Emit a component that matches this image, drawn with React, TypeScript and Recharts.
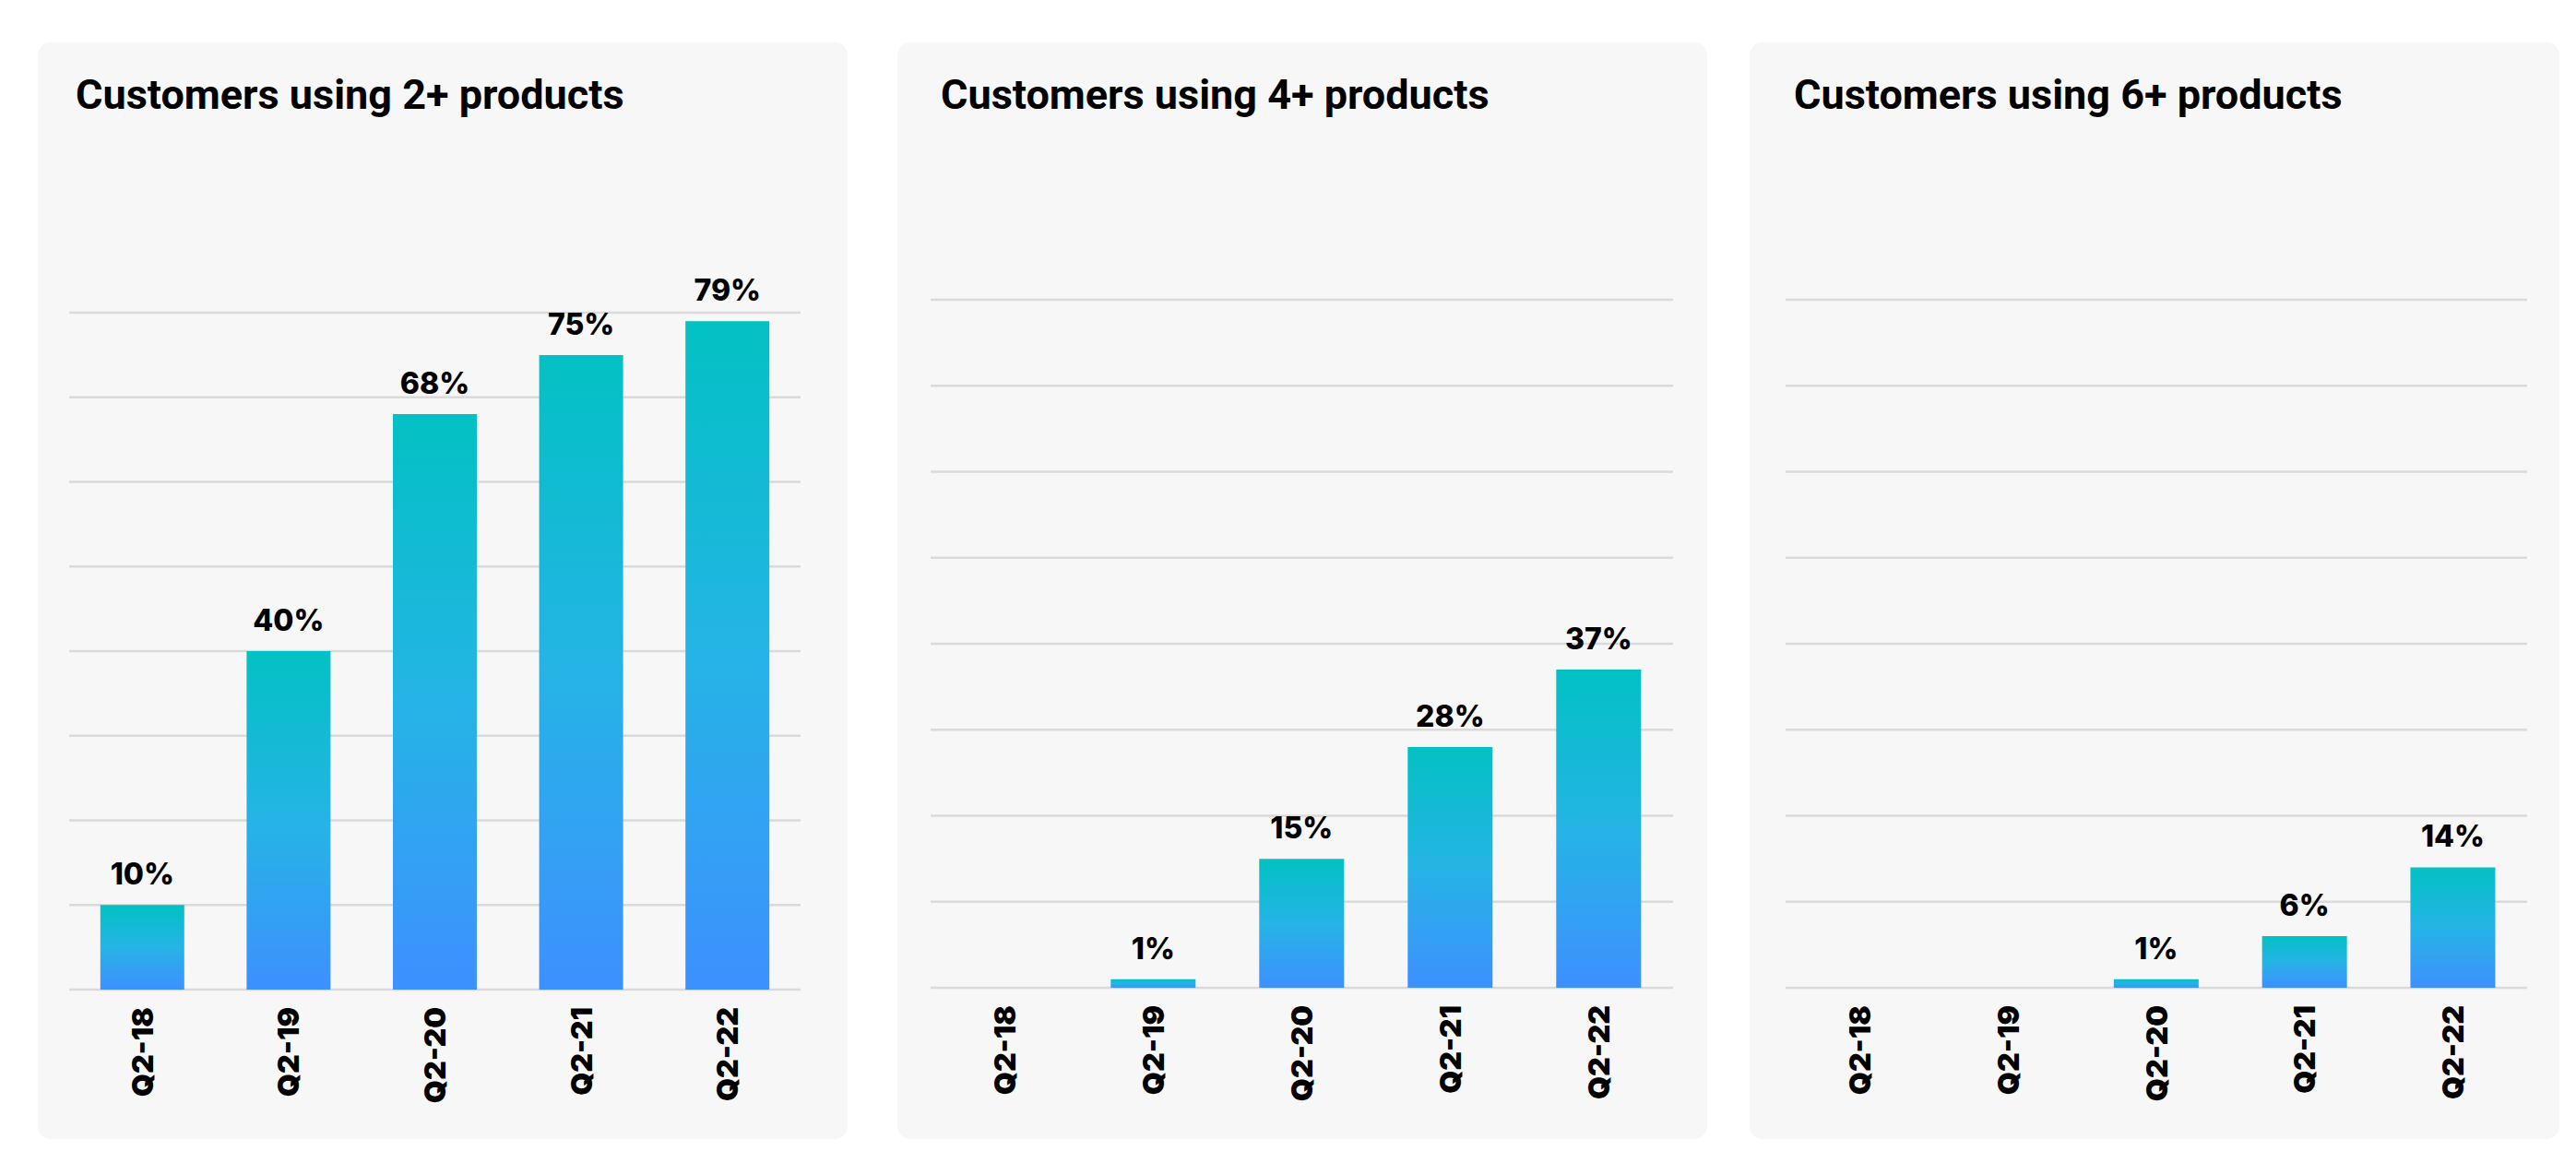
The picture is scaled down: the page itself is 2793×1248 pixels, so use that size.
import { Bar, BarChart, CartesianGrid, LabelList, XAxis, YAxis } from "recharts";

const quarters = ["Q2-18", "Q2-19", "Q2-20", "Q2-21", "Q2-22"];
const twoPlus = [10, 40, 68, 75, 79];
const fourPlus = [0, 1, 15, 28, 37];
const sixPlus = [0, 0, 1, 6, 14];
const yTicks = [0, 10, 20, 30, 40, 50, 60, 70, 80];

const CARD_W = 878;
const CARD_H = 1189;
const labelFont = "Inter, Roboto, sans-serif";

function QuarterTick({ x, y, payload }: any) {
  return (
    <text
      x={x}
      y={y}
      transform={`rotate(-90, ${x}, ${y})`}
      textAnchor="end"
      dy="0.36em"
      fill="#000"
      fontSize={32}
      fontWeight={900}
      fontFamily={labelFont}
    >
      {payload.value}
    </text>
  );
}

type PanelProps = {
  id: string;
  title: string;
  values: number[];
  left: number;
  titleLeft: number;
  margin: { top: number; right: number; bottom: number; left: number };
};

function Panel({ id, title, values, left, titleLeft, margin }: PanelProps) {
  const data = quarters.map((q, i) => ({ quarter: q, value: values[i] }));
  return (
    <div
      style={{
        position: "absolute",
        left,
        top: 46,
        width: CARD_W,
        height: CARD_H,
        background: "#f7f7f7",
        borderRadius: 14,
      }}
    >
      <div
        style={{
          position: "absolute",
          left: titleLeft,
          top: 34,
          fontFamily: "Roboto, sans-serif",
          fontWeight: 700,
          fontSize: 45,
          lineHeight: 1,
          color: "#000",
          whiteSpace: "nowrap",
        }}
      >
        {title}
      </div>
      <div style={{ position: "absolute", left: 0, top: 0 }}>
        <BarChart
          width={CARD_W}
          height={CARD_H}
          data={data}
          margin={margin}
          barCategoryGap="21.3%"
        >
          <defs>
            <linearGradient id={id} x1="0" y1="0" x2="0" y2="1">
              <stop offset="0%" stopColor="#02C1C3" />
              <stop offset="50%" stopColor="#25B4E6" />
              <stop offset="100%" stopColor="#3E90FF" />
            </linearGradient>
          </defs>
          <CartesianGrid vertical={false} stroke="#dadada" strokeWidth={2.5} />
          <XAxis
            dataKey="quarter"
            axisLine={false}
            tickLine={false}
            tickSize={0}
            tickMargin={19}
            height={130}
            interval={0}
            tick={<QuarterTick />}
          />
          <YAxis hide domain={[0, 80]} ticks={yTicks} />
          <Bar dataKey="value" fill={`url(#${id})`} isAnimationActive={false}>
            <LabelList
              dataKey="value"
              position="top"
              offset={22}
              fill="#000"
              fontSize={32}
              fontWeight={800}
              fontFamily={labelFont}
              formatter={(v: any) => (v ? `${v}%` : "")}
            />
          </Bar>
        </BarChart>
      </div>
    </div>
  );
}

export default function App() {
  return (
    <div
      style={{
        position: "absolute",
        left: 0,
        top: 0,
        width: 2793,
        height: 1248,
        background: "#fff",
      }}
    >
      <Panel
        id="grad2"
        title="Customers using 2+ products"
        values={twoPlus}
        left={41}
        titleLeft={41}
        margin={{ top: 293, right: 51, bottom: 32, left: 34 }}
      />
      <Panel
        id="grad4"
        title="Customers using 4+ products"
        values={fourPlus}
        left={973}
        titleLeft={47}
        margin={{ top: 279, right: 37, bottom: 34, left: 36 }}
      />
      <Panel
        id="grad6"
        title="Customers using 6+ products"
        values={sixPlus}
        left={1897}
        titleLeft={48}
        margin={{ top: 279, right: 35, bottom: 34, left: 39 }}
      />
    </div>
  );
}
